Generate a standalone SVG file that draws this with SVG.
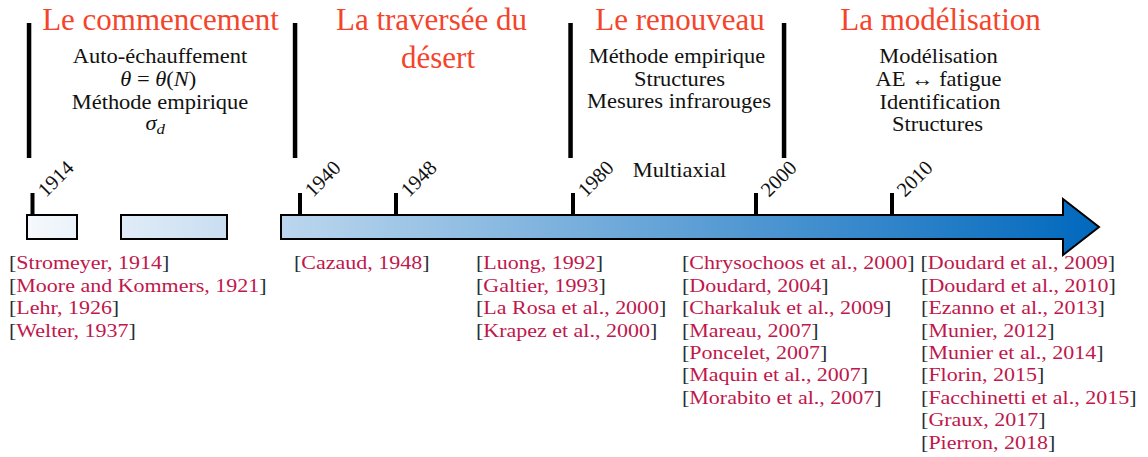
<svg xmlns="http://www.w3.org/2000/svg" width="1148" height="457" viewBox="0 0 1148 457" font-family="'Liberation Serif','DejaVu Serif',serif">
<style>
text{font-family:"Liberation Serif","DejaVu Serif",serif;}
.title{font-size:31px;fill:#f5442c;text-anchor:middle;}
.body{font-size:20px;fill:#111;text-anchor:middle;}
.ref{font-size:19.5px;fill:#c0174c;}
.b{fill:#1f2f35;}
.yr{font-size:20.5px;fill:#111;}
.bar{fill:#000;}
.tick{stroke:#000;stroke-width:4;}
.shape{fill:url(#g);stroke:#000;stroke-width:2;}
.it{font-style:italic;}
</style>
<defs>
<linearGradient id="g" gradientUnits="userSpaceOnUse" x1="27" y1="0" x2="1100" y2="0">
<stop offset="0" stop-color="#f6f9fd"/>
<stop offset="1" stop-color="#0068bd"/>
</linearGradient>
</defs>
<rect width="1148" height="457" fill="#fff"/>

<g id="separators">
<rect class="bar" x="26.8" y="23" width="4.5" height="135"/>
<rect class="bar" x="292.8" y="23" width="4.5" height="135"/>
<rect class="bar" x="568.3" y="23" width="4.5" height="135"/>
<rect class="bar" x="781.8" y="23" width="4.5" height="135"/>
</g>

<g id="period-commencement">
<text class="title" x="160.5" y="30">Le commencement</text>
<g transform="translate(160,0) scale(1.125,1)">
<text class="body" x="0" y="63">Auto-échauffement</text>
<text class="body" x="-1.5" y="86"><tspan class="it">θ</tspan> = <tspan class="it">θ</tspan>(<tspan class="it">N</tspan>)</text>
<text class="body" x="0" y="109">Méthode empirique</text>
<text class="body" x="-13" y="130" style="text-anchor:start"><tspan class="it">σ</tspan><tspan class="it" dy="4" style="font-size:15px">d</tspan></text>
</g>
</g>

<g id="period-traversee">
<text class="title" x="431.5" y="30">La traversée du</text>
<text class="title" x="438" y="68">désert</text>
</g>

<g id="period-renouveau">
<text class="title" x="680" y="30">Le renouveau</text>
<g transform="translate(679,0) scale(1.125,1)">
<text class="body" x="-1.8" y="63">Méthode empirique</text>
<text class="body" x="0.4" y="86">Structures</text>
<text class="body" x="0" y="108">Mesures infrarouges</text>
<text class="body" x="0.4" y="177">Multiaxial</text>
</g>
</g>

<g id="period-modelisation">
<text class="title" x="940.5" y="30">La modélisation</text>
<g transform="translate(938.5,0) scale(1.125,1)">
<text class="body" x="0" y="63">Modélisation</text>
<text class="body" x="0" y="86">AE ↔ fatigue</text>
<text class="body" x="1.3" y="109">Identification</text>
<text class="body" x="-0.9" y="131">Structures</text>
</g>
</g>

<g id="timeline">
<rect class="shape" x="27" y="215" width="50" height="24"/>
<rect class="shape" x="121" y="215" width="106" height="24"/>
<path class="shape" d="M281,215 L1063,215 L1063,199 L1099,227 L1063,255 L1063,239 L281,239 Z"/>
<line class="tick" x1="32.5" y1="193" x2="32.5" y2="215"/>
<line class="tick" x1="300" y1="193" x2="300" y2="215"/>
<line class="tick" x1="396" y1="193" x2="396" y2="215"/>
<line class="tick" x1="573" y1="193" x2="573" y2="215"/>
<line class="tick" x1="756" y1="193" x2="756" y2="215"/>
<line class="tick" x1="892" y1="193" x2="892" y2="215"/>
<text class="yr" transform="translate(46,198) rotate(-45)">1914</text>
<text class="yr" transform="translate(313,198) rotate(-45)">1940</text>
<text class="yr" transform="translate(409,198) rotate(-45)">1948</text>
<text class="yr" transform="translate(586,198) rotate(-45)">1980</text>
<text class="yr" transform="translate(769,198) rotate(-45)">2000</text>
<text class="yr" transform="translate(905,198) rotate(-45)">2010</text>
</g>

<g id="refs-1914" transform="translate(9,0) scale(1.128,1)">
<text class="ref" x="0" y="269.5"><tspan class="b">[</tspan>Stromeyer, 1914<tspan class="b">]</tspan></text>
<text class="ref" x="0" y="291.9"><tspan class="b">[</tspan>Moore and Kommers, 1921<tspan class="b">]</tspan></text>
<text class="ref" x="0" y="314.3"><tspan class="b">[</tspan>Lehr, 1926<tspan class="b">]</tspan></text>
<text class="ref" x="0" y="336.7"><tspan class="b">[</tspan>Welter, 1937<tspan class="b">]</tspan></text>
</g>

<g id="refs-1940" transform="translate(294,0) scale(1.128,1)">
<text class="ref" x="0" y="269.5"><tspan class="b">[</tspan>Cazaud, 1948<tspan class="b">]</tspan></text>
</g>

<g id="refs-1980" transform="translate(476,0) scale(1.128,1)">
<text class="ref" x="0" y="269.5"><tspan class="b">[</tspan>Luong, 1992<tspan class="b">]</tspan></text>
<text class="ref" x="0" y="291.9"><tspan class="b">[</tspan>Galtier, 1993<tspan class="b">]</tspan></text>
<text class="ref" x="0" y="314.3"><tspan class="b">[</tspan>La Rosa et al., 2000<tspan class="b">]</tspan></text>
<text class="ref" x="0" y="336.7"><tspan class="b">[</tspan>Krapez et al., 2000<tspan class="b">]</tspan></text>
</g>

<g id="refs-2000" transform="translate(682,0) scale(1.128,1)">
<text class="ref" x="0" y="269.5"><tspan class="b">[</tspan>Chrysochoos et al., 2000<tspan class="b">]</tspan></text>
<text class="ref" x="0" y="291.9"><tspan class="b">[</tspan>Doudard, 2004<tspan class="b">]</tspan></text>
<text class="ref" x="0" y="314.3"><tspan class="b">[</tspan>Charkaluk et al., 2009<tspan class="b">]</tspan></text>
<text class="ref" x="0" y="336.7"><tspan class="b">[</tspan>Mareau, 2007<tspan class="b">]</tspan></text>
<text class="ref" x="0" y="359.1"><tspan class="b">[</tspan>Poncelet, 2007<tspan class="b">]</tspan></text>
<text class="ref" x="0" y="381.5"><tspan class="b">[</tspan>Maquin et al., 2007<tspan class="b">]</tspan></text>
<text class="ref" x="0" y="403.9"><tspan class="b">[</tspan>Morabito et al., 2007<tspan class="b">]</tspan></text>
</g>

<g id="refs-2010" transform="translate(920.5,0) scale(1.128,1)">
<text class="ref" x="0" y="269.5"><tspan class="b">[</tspan>Doudard et al., 2009<tspan class="b">]</tspan></text>
<text class="ref" x="0.5" y="291.9"><tspan class="b">[</tspan>Doudard et al., 2010<tspan class="b">]</tspan></text>
<text class="ref" x="0.5" y="314.3"><tspan class="b">[</tspan>Ezanno et al., 2013<tspan class="b">]</tspan></text>
<text class="ref" x="0.5" y="336.7"><tspan class="b">[</tspan>Munier, 2012<tspan class="b">]</tspan></text>
<text class="ref" x="0.5" y="359.1"><tspan class="b">[</tspan>Munier et al., 2014<tspan class="b">]</tspan></text>
<text class="ref" x="0.5" y="381.5"><tspan class="b">[</tspan>Florin, 2015<tspan class="b">]</tspan></text>
<text class="ref" x="0.5" y="403.9"><tspan class="b">[</tspan>Facchinetti et al., 2015<tspan class="b">]</tspan></text>
<text class="ref" x="0.5" y="426.3"><tspan class="b">[</tspan>Graux, 2017<tspan class="b">]</tspan></text>
<text class="ref" x="0.5" y="448.7"><tspan class="b">[</tspan>Pierron, 2018<tspan class="b">]</tspan></text>
</g>
</svg>
